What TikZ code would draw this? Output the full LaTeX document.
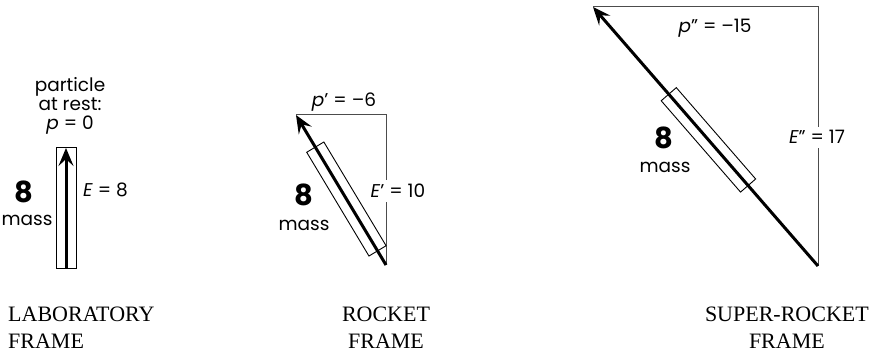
\documentclass[tikz,border=0pt]{standalone}
\usepackage{fontspec}
\setmainfont{Liberation Serif}
\newfontfamily\diafont{Poppins}
\usetikzlibrary{arrows.meta,calc}
\begin{document}
\begin{tikzpicture}[x=1pt,y=-1pt,
  lbl/.style={font=\diafont\fontsize{18.5}{19}\selectfont, inner sep=0pt},
  bignum/.style={font=\diafont\bfseries\fontsize{29}{29}\selectfont, inner sep=0pt},
  caption/.style={font=\fontsize{22}{27}\selectfont, inner sep=0pt},
  momentum/.style={-{Stealth[length=18pt,width=15pt,inset=7pt]}, line width=3pt},
  leg/.style={line width=1pt, draw=black!70},
  massbox/.style={draw, line width=0.9pt, minimum width=121pt, minimum height=20pt, inner sep=0pt, sloped},
  gapfill/.style={fill=white, inner sep=4pt}]

\useasboundingbox (0,0) rectangle (871,355);

% laboratory frame
\coordinate (lb) at (66,268);
\coordinate (lt) at (66,148);
\path (lb) -- node[massbox,pos=0.5] (lbox) {} (lt);
\draw[momentum] (lb) -- (lt);
\node[lbl, align=center, anchor=north] (lrest) at (70,77) {particle\\at rest:\\\textit{p} = 0};
\node[lbl, anchor=base west] (lE) at (83,197) {\textit{E} = 8};
\node[bignum, anchor=base] (l8) at (24,203) {8};
\node[lbl, anchor=base] (lm) at (27,226) {mass};

% rocket frame
\coordinate (rb) at (386,265);
\coordinate (rc) at (386,115);
\coordinate (rt) at (296,115);
\draw[leg] (rb) -- (rc) -- (rt);
\path (rb) -- node[massbox,pos=0.44] (rbox) {} (rt);
\draw[momentum] (rb) -- (rt);
\node[lbl, anchor=base] (rp) at (344,107) {\textit{p}’ = –6};
\node[lbl, gapfill, anchor=base] (rE) at (398,198) {\textit{E}’ = 10};
\node[bignum, anchor=base] (r8) at (304,206) {8};
\node[lbl, anchor=base] (rm) at (304,231) {mass};

% super-rocket frame
\coordinate (sb) at (818,266);
\coordinate (sc) at (818,7);
\coordinate (st) at (593,7);
\draw[leg] (sb) -- (sc) -- (st);
\path (sb) -- node[massbox,pos=0.487] (sbox) {} (st);
\draw[momentum] (sb) -- (st);
\node[lbl, anchor=base] (sp) at (715,33) {\textit{p}” = –15};
\node[lbl, gapfill, anchor=base] (sE) at (817,144) {\textit{E}” = 17};
\node[bignum, anchor=base] (s8) at (664,149) {8};
\node[lbl, anchor=base] (sm) at (665,173) {mass};

% captions
\node[caption, align=left, anchor=north west] (lcap) at (8,307) {LABORATORY\\FRAME};
\node[caption, align=center, anchor=north] (rcap) at (386,307) {ROCKET\\FRAME};
\node[caption, align=center, anchor=north east] (scap) at (869,307) {SUPER-ROCKET\\FRAME};
\end{tikzpicture}
\end{document}
